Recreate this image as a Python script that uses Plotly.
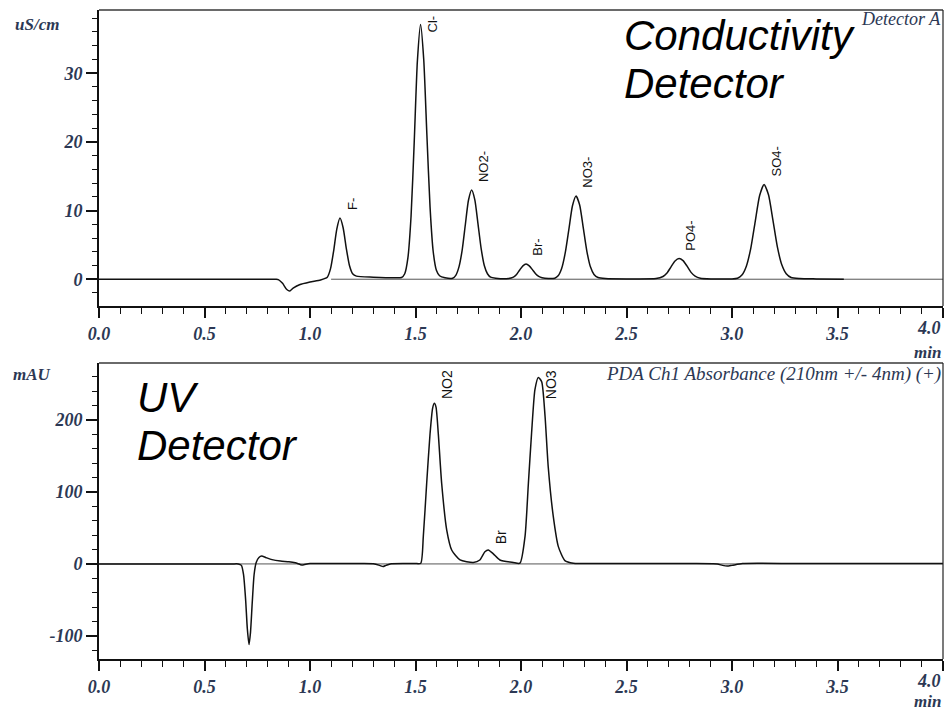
import plotly.graph_objects as go
from plotly.subplots import make_subplots

# ---------------- data ----------------
# Conductivity detector trace (min, uS/cm)
cond_t = [0.00, 0.40, 0.80, 0.84, 0.85, 0.87, 0.89, 0.905, 0.92, 0.95, 1.00, 1.05, 1.082,
          1.097, 1.112, 1.127, 1.142, 1.157, 1.172, 1.187, 1.202, 1.22, 1.30,
          1.40, 1.434, 1.449, 1.464, 1.479, 1.494, 1.509, 1.524, 1.539, 1.554,
          1.569, 1.584, 1.599, 1.614, 1.64, 1.676, 1.691, 1.706, 1.721, 1.736,
          1.751, 1.766, 1.781, 1.796, 1.811, 1.826, 1.841, 1.856, 1.88, 1.94,
          1.964, 1.979, 1.994, 2.009, 2.024, 2.039, 2.054, 2.069, 2.084, 2.10,
          2.13, 2.16, 2.176, 2.193, 2.21, 2.227, 2.244, 2.261, 2.278, 2.295,
          2.312, 2.329, 2.346, 2.365, 2.40, 2.50, 2.64, 2.673, 2.692, 2.711,
          2.73, 2.749, 2.768, 2.787, 2.806, 2.825, 2.85, 2.90, 3.00, 3.026,
          3.047, 3.068, 3.089, 3.11, 3.131, 3.152, 3.173, 3.194, 3.215, 3.236,
          3.257, 3.28, 3.32, 3.40, 3.53]
cond_v = [0.0, 0.0, 0.0, 0.0, -0.05, -0.6, -1.5, -1.7, -1.3, -0.8, -0.4, -0.1, 0.3,
          1.5, 4.1, 7.3, 8.9, 7.5, 4.5, 2.0, 0.8, 0.45, 0.3,
          0.2, 0.25, 0.8, 3.1, 9.2, 20.0, 31.8, 37.1, 32.0, 21.0,
          10.5, 4.0, 1.3, 0.5, 0.2, 0.15, 0.57, 1.8, 4.2, 7.9,
          11.5, 13.0, 11.6, 8.1, 4.5, 2.0, 0.8, 0.3, 0.15, 0.1,
          0.3, 0.7, 1.35, 1.95, 2.2, 1.95, 1.4, 0.8, 0.4, 0.2,
          0.1, 0.15, 0.5, 1.6, 3.9, 7.3, 10.7, 12.1, 10.8, 7.5,
          4.1, 1.8, 0.7, 0.25, 0.1, 0.05, 0.1, 0.4, 0.9, 1.8,
          2.65, 3.0, 2.7, 1.9, 1.0, 0.45, 0.15, 0.05, 0.05, 0.15,
          0.6, 1.9, 4.5, 8.4, 12.2, 13.8, 12.3, 8.6, 4.7, 2.1,
          0.8, 0.25, 0.1, 0.05, 0.0]
cond_base_t = [1.10, 4.00]
cond_base_v = [0.0, 0.0]

# UV detector trace (min, mAU)
uv_t = [0.00, 0.40, 0.63, 0.66, 0.675, 0.685, 0.695, 0.703, 0.711, 0.718, 0.726, 0.735,
        0.745, 0.758, 0.771, 0.79, 0.82, 0.86, 0.90, 0.93, 0.955, 0.967,
        0.98, 1.00, 1.10, 1.20, 1.30, 1.33, 1.346, 1.36, 1.38, 1.45,
        1.50, 1.525, 1.537, 1.553, 1.569, 1.581, 1.589, 1.597, 1.608, 1.624,
        1.648, 1.672, 1.711, 1.774, 1.805, 1.829, 1.845, 1.869, 1.90, 1.963,
        1.995, 2.019, 2.035, 2.05, 2.066, 2.082, 2.098, 2.114, 2.129, 2.153,
        2.177, 2.208, 2.248, 2.40, 2.60, 2.80, 2.93, 2.955, 2.977, 3.00,
        3.05, 3.30, 3.60, 4.00]
uv_v = [0.0, 0.0, 0.0, 0.0, -2, -15, -50, -90, -112, -95, -55, -15,
        2, 9, 11, 9, 6, 4, 3, 1.5, -1, -1.5,
        -0.5, 0.5, 0.5, 0.5, 0.3, -2, -3.7, -2, 0, 0.5,
        0.5, 1, 38, 112, 181, 216, 223, 218, 181, 112,
        47, 19, 5.5, 2, 5.5, 17, 19.4, 14, 5.5, 2,
        1, 38, 112, 181, 242, 259, 253, 205, 135, 66,
        24, 4.6, 1, 0.5, 0.5, 0.5, 0, -2, -3, -2,
        0.5, 0.5, 0.5, 0.5]
uv_base_t = [0.0, 4.0]
uv_base_v = [0.0, 0.0]

# peak labels
cond_labels = ["F-", "Cl-", "NO2-", "Br-", "NO3-", "PO4-", "SO4-"]
cond_peak_t = [1.142, 1.524, 1.766, 2.024, 2.261, 2.749, 3.152]
cond_peak_v = [8.9, 37.1, 13.0, 2.2, 12.1, 3.0, 13.8]

uv_labels = ["NO2", "Br", "NO3"]
uv_peak_t = [1.589, 1.845, 2.082]
uv_peak_v = [223, 19.4, 259]

x_ticks = [0.0, 0.5, 1.0, 1.5, 2.0, 2.5, 3.0, 3.5, 4.0]
cond_y_ticks = [0, 10, 20, 30]
uv_y_ticks = [-100, 0, 100, 200]

# ---------------- figure ----------------
TICK_COLOR = "#2c3854"
SERIF = "Liberation Serif"
SANS = "Liberation Sans"

fig = make_subplots(rows=2, cols=1, vertical_spacing=0.0878)

fig.add_trace(go.Scatter(x=cond_base_t, y=cond_base_v, mode="lines",
                         line=dict(color="#555555", width=1), hoverinfo="skip"),
              row=1, col=1)
fig.add_trace(go.Scatter(x=cond_t, y=cond_v, mode="lines",
                         line=dict(color="#111111", width=1.5, shape="spline", smoothing=0.6)),
              row=1, col=1)
fig.add_trace(go.Scatter(x=uv_base_t, y=uv_base_v, mode="lines",
                         line=dict(color="#555555", width=1), hoverinfo="skip"),
              row=2, col=1)
fig.add_trace(go.Scatter(x=uv_t, y=uv_v, mode="lines",
                         line=dict(color="#111111", width=1.5, shape="spline", smoothing=0.6)),
              row=2, col=1)

tickfont = dict(family=SERIF, size=18, color=TICK_COLOR, style="italic", weight="bold")
# the last label (4.0) sits flush with the right edge, drawn separately below
xfmt = [f"{v:.1f}" for v in x_ticks[:-1]] + [""]

common_x = dict(range=[0, 4], tickmode="array", tickvals=x_ticks, ticktext=xfmt,
                ticks="outside", ticklen=10, tickwidth=1.5, tickcolor="#111",
                showline=True, linewidth=2, linecolor="#111", showgrid=False,
                zeroline=False, tickfont=tickfont, mirror=False,
                minor=dict(dtick=0.1, ticks="outside", ticklen=6, tickwidth=1.2,
                           tickcolor="#111", showgrid=False))
fig.update_xaxes(**common_x, row=1, col=1)
fig.update_xaxes(**common_x, row=2, col=1)

common_y = dict(ticks="outside", ticklen=11, tickwidth=1.5, tickcolor="#111",
                showline=True, linewidth=2, linecolor="#111", showgrid=False,
                zeroline=False, tickfont=tickfont)
fig.update_yaxes(**common_y, range=[-3.9, 39.2], tickmode="array", tickvals=cond_y_ticks,
                 ticktext=[str(v) for v in cond_y_ticks],
                 minor=dict(dtick=2, tick0=0, ticks="outside", ticklen=5, tickwidth=1.2,
                            tickcolor="#111", showgrid=False),
                 row=1, col=1)
fig.update_yaxes(**common_y, range=[-132, 279], tickmode="array", tickvals=uv_y_ticks,
                 ticktext=[str(v) for v in uv_y_ticks],
                 minor=dict(dtick=20, tick0=0, ticks="outside", ticklen=5, tickwidth=1.2,
                            tickcolor="#111", showgrid=False),
                 row=2, col=1)

# frame top (gray) and right (black)
for xr, yr in [("x domain", "y domain"), ("x2 domain", "y2 domain")]:
    fig.add_shape(type="line", xref=xr, yref=yr, x0=0, x1=1, y0=1, y1=1,
                  line=dict(color="#6a6a6a", width=2))
    fig.add_shape(type="line", xref=xr, yref=yr, x0=1, x1=1, y0=0, y1=1,
                  line=dict(color="#222222", width=1.2))

# last x tick label, right-aligned to the axis end
for xr, py in [("x", 0.510), ("x2", -0.0339)]:
    fig.add_annotation(xref=xr, yref="paper", x=x_ticks[-1], y=py, text=f"{x_ticks[-1]:.1f}",
                       showarrow=False, xanchor="right", yanchor="middle", font=tickfont)

# peak labels
lab_font = dict(family=SANS, size=13, color="#111")
cond_shift = [6, -10, 6, 6, 6, 6, 6]
for name, t, v, ys in zip(cond_labels, cond_peak_t, cond_peak_v, cond_shift):
    fig.add_annotation(x=t, y=v, xref="x", yref="y", text=name, showarrow=False,
                       textangle=-90, xanchor="center", yanchor="bottom",
                       xshift=12, yshift=ys, font=lab_font)
uv_font = dict(family=SANS, size=14, color="#111")
uv_shift = [2, 4, -24]
for name, t, v, ys in zip(uv_labels, uv_peak_t, uv_peak_v, uv_shift):
    fig.add_annotation(x=t, y=v, xref="x2", yref="y2", text=name, showarrow=False,
                       textangle=-90, xanchor="center", yanchor="bottom",
                       xshift=13, yshift=ys, font=uv_font)

ital = dict(family=SERIF, size=18, color=TICK_COLOR, style="italic")
ital19 = dict(family=SERIF, size=19, color=TICK_COLOR, style="italic")
italb = dict(family=SERIF, size=17, color=TICK_COLOR, style="italic", weight="bold")
fig.add_annotation(xref="x domain", yref="y domain", x=1.0, y=0.968, text="Detector A",
                   showarrow=False, xanchor="right", yanchor="middle", font=ital)
fig.add_annotation(xref="x2 domain", yref="y2 domain", x=1.0, y=0.963,
                   text="PDA Ch1 Absorbance (210nm +/- 4nm) (+)",
                   showarrow=False, xanchor="right", yanchor="middle", font=ital19)
fig.add_annotation(xref="paper", yref="paper", x=1.0, y=0.4715, text="min",
                   showarrow=False, xanchor="right", yanchor="middle", font=italb)
fig.add_annotation(xref="paper", yref="paper", x=1.0, y=-0.0662, text="min",
                   showarrow=False, xanchor="right", yanchor="middle", font=italb)
fig.add_annotation(xref="paper", yref="paper", x=-0.074, y=0.978, text="uS/cm",
                   showarrow=False, xanchor="center", yanchor="middle", font=italb)
fig.add_annotation(xref="paper", yref="paper", x=-0.079, y=0.4376, text="mAU",
                   showarrow=False, xanchor="center", yanchor="middle", font=italb)

big = dict(family=SANS, size=42, color="#000", style="italic")
for txt, px, py in [("Conductivity", 0.6197, 0.960), ("Detector", 0.6197, 0.886),
                    ("UV", 0.0427, 0.4022), ("Detector", 0.0427, 0.3282)]:
    fig.add_annotation(xref="paper", yref="paper", x=px, y=py, text=txt, showarrow=False,
                       xanchor="left", yanchor="middle", align="left", font=big)

fig.update_layout(width=946, height=711, showlegend=False,
                  margin=dict(l=99, r=3, t=10, b=52),
                  paper_bgcolor="white", plot_bgcolor="white")

fig.write_html("out.html", config={"displayModeBar": False},
               post_script="document.body.style.margin='0';document.body.style.overflow='hidden';")
